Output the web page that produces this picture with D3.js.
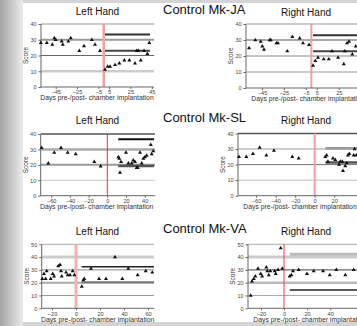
<!DOCTYPE html>
<html>
<head>
<meta charset="utf-8">
<script src="https://cdn.jsdelivr.net/npm/d3@7"></script>
<style>
  body { margin: 0; background: #fff; }
  svg { display: block; font-family: "Liberation Sans", Arial, sans-serif; }
</style>
</head>
<body>
<div id="chart"></div>
<script>
// titles
const monkeys = ['Control Mk-JA', 'Control Mk-SL', 'Control Mk-VA'];
const hands = ['Left Hand', 'Right Hand'];
const xTitle = 'Days pre-/post- chamber implantation';

// tick labels
const xTicksJA = [-45, -25, -5, 5, 25, 45];
const xTicksSL = [-60, -40, -20, 0, 20, 40];
const xTicksVA = [-20, 0, 20, 40, 60];
const yTicks40 = [0, 10, 20, 30, 40];
const yTicks50 = [0, 10, 20, 30, 40, 50];

// Mk-JA
const jaLeftDays = [-59, -53.4, -48.2, -46.3, -45, -39.4, -38.4, -33.2, -30.9, -22.9, -18.5, -11.2, -8.2, -3.5,
  1.2, 3.7, 5.9, 10.6, 14.6, 19.3, 24, 29.3, 30.9, 32.4, 34.7, 37.8, 40.9, 42.7];
const jaLeftScores = [28, 28, 27, 31, 30, 29, 27, 29, 31, 23, 26, 30, 27, 23,
  11, 13, 13, 14, 15, 17, 17, 15, 23, 23, 17, 23, 21, 28];
const jaLeftMeans = [33.3, 23];
const jaRightDays = [-56.8, -51.1, -46.2, -44.7, -43.2, -38, -37, -31.9, -30.4, -21.9, -17.3, -10.6, -7.6, -2.1,
  1.6, 3.6, 6.1, 11.3, 15.9, 18.9, 24.4, 29.6, 30.5, 32.6, 34.4, 37.4, 40.5];
const jaRightScores = [25, 30, 29, 26, 24, 30, 30, 28, 28, 23, 32, 31, 28, 27,
  14, 17, 19, 18, 18, 23, 19, 15, 23, 28, 29, 21, 26];
const jaRightMeans = [33, 23];

// Mk-SL
const slLeftDays = [-70.2, -63.1, -56.7, -49.5, -42.4, -33.8, -13.9, -7.1,
  11.8, 12.8, 13.6, 14.7, 20, 22.5, 26.1, 27.8, 29.6, 31.4, 32.5, 35, 36.8, 38.5, 40.3, 42.1, 46.5, 47.5, 49.2];
const slLeftScores = [31, 21, 28, 31, 28, 27, 22, 19,
  25, 24, 15, 22, 28, 21, 21, 23, 22, 18, 18, 28, 21, 24, 25, 26, 33, 27, 29];
const slLeftMeans = [36.6, 19.3];
const slRightDays = [-77.5, -70, -63.2, -56.3, -49.5, -41.7, -22.9, -16.4,
  10.8, 12.3, 13.6, 18.7, 21.1, 24.9, 26.2, 28.3, 29, 31.3, 32.8, 34.1, 35.4, 39.9, 40.9, 42.6];
const slRightScores = [25, 25, 27, 31, 26, 29, 25, 24,
  25, 26, 22, 24, 23, 20, 22, 22, 16, 19, 21, 26, 27, 26, 30, 26];
const slRightMeans = [30.5, 21.3];

// Mk-VA
const vaLeftDays = [-28.1, -26.7, -25.3, -24.4, -21.1, -19.4, -18.3, -14.8, -13.3, -12.5, -11.9, -8.3, -6.9, -5, -2.8, -1.4,
  4.8, 6.1, 6.9, 12.5, 19.2, 25, 32.5, 38.6, 43.6, 51.4, 58.1, 63.6];
const vaLeftScores = [23, 27, 23, 29, 23, 27, 25, 33, 34, 29, 25, 28, 26, 26, 29, 26,
  17, 22, 23, 31, 23, 23, 40, 23, 31, 26, 29, 28];
const vaLeftMeans = [32.5, 20.3];
const vaRightDays = [-28.8, -27.7, -26.2, -24.8, -22.5, -20.2, -19, -15.3, -14.5, -13.2, -11.9, -8.1, -7.2, -5.2, -2.9, -1.5,
  4.9, 6.3, 7.8, 12.7, 19.9, 25.7, 33.8, 39.6, 45.3, 53.1, 60.3];
const vaRightScores = [10, 21, 23, 25, 31, 27, 25, 32, 29, 26, 29, 29, 27, 30, 47, 31,
  25, 26, 29, 30, 27, 29, 29, 26, 30, 26, 30];
const vaRightMeans = [42.3, 14.3];

const W = 357, H = 326;
const svg = d3.select('#chart').append('svg').attr('width', W).attr('height', H);

// slide background with its shadow
const defs = svg.append('defs');
const grad = defs.append('linearGradient').attr('id', 'shade')
  .attr('x1', '0%').attr('x2', '100%').attr('y1', '0%').attr('y2', '0%');
grad.append('stop').attr('offset', '0%').attr('stop-color', '#a4a4a4');
grad.append('stop').attr('offset', '100%').attr('stop-color', '#ececec');
svg.append('rect').attr('width', W).attr('height', H).attr('fill', '#d4d4d4');
svg.append('rect').attr('width', 23).attr('height', H).attr('fill', 'url(#shade)');
svg.append('rect').attr('x', 23).attr('y', 3).attr('width', W - 23).attr('height', 319).attr('fill', '#fff');

// monkey headings
const headY = [14, 122, 233];
monkeys.forEach((m, i) => {
  svg.append('text').attr('x', 163).attr('y', headY[i])
    .style('font-size', '13px').attr('fill', '#111').text(m);
});

// panel layout (pixel positions belong here, not with the data)
const panels = [
  { days: jaLeftDays, scores: jaLeftScores, means: jaLeftMeans, hand: 0, xt: xTicksJA, yt: yTicks40,
    xr: [41, 154], dom: [-58.8, 47.1], yr: [87, 24], titleY: 15, meanDom: [1.2, 43.4],
    grid: [['#999', 1], ['#9a9a9a', 2], ['#666', 1], ['#ccc', 2.5]], red: ['#f4a0a0', 2.5],
    meanStyle: [['#333', 2], ['#444', 2]] },
  { days: jaRightDays, scores: jaRightScores, means: jaRightMeans, hand: 1, xt: xTicksJA, yt: yTicks40,
    xr: [246, 360], dom: [-59.6, 44.4], yr: [88, 24], titleY: 16, meanDom: [1.5, 50],
    grid: [['#999', 1], ['#aaa', 2], ['#888', 1], ['#bbb', 1.5]], red: ['#f4a0a0', 2],
    meanStyle: [['#333', 2], ['#444', 2]] },
  { days: slLeftDays, scores: slLeftScores, means: slLeftMeans, hand: 0, xt: xTicksSL, yt: yTicks40,
    xr: [40.7, 155], dom: [-71.2, 51], yr: [195.7, 134], titleY: 124, meanDom: [11.7, 50],
    grid: [['#555', 1.5], ['#aaa', 2.5], ['#999', 2], ['#ccc', 1]], red: ['#e03030', 1],
    meanStyle: [['#111', 2], ['#555', 2.5]] },
  { days: slRightDays, scores: slRightScores, means: slRightMeans, hand: 1, xt: xTicksSL, yt: yTicks40,
    xr: [238, 360], dom: [-78.5, 46.4], yr: [195.7, 133.5], titleY: 124, meanDom: [11, 50],
    grid: [['#555', 1.5], ['#bbb', 1.5], ['#777', 1], ['#bbb', 1]], red: ['#f4a0a0', 2],
    meanStyle: [['#999', 2.5], ['#555', 2.5]] },
  { days: vaLeftDays, scores: vaLeftScores, means: vaLeftMeans, hand: 0, xt: xTicksVA, yt: yTicks50,
    xr: [41.7, 154], dom: [-28.6, 65], yr: [308.3, 244.3], titleY: 235, meanDom: [4.7, 65],
    grid: [['#aaa', 1], ['#ccc', 3], ['#888', 1], ['#aaa', 2], ['#999', 1]], red: ['#f6b0b0', 3],
    meanStyle: [['#222', 1.5], ['#777', 2]] },
  { days: vaRightDays, scores: vaRightScores, means: vaRightMeans, hand: 1, xt: xTicksVA, yt: yTicks50,
    xr: [248, 360], dom: [-31.2, 65.8], yr: [308.3, 244.3], titleY: 235, meanDom: [5, 70],
    grid: [['#aaa', 1], ['#ccc', 3], ['#444', 1], ['#bbb', 2.5], ['#aaa', 1]], red: ['#e84040', 1],
    meanStyle: [['#bbb', 3], ['#222', 1.5]] }
];

const tri = d3.symbol().type(d3.symbolTriangle).size(7);
const fontFam = '"Liberation Sans", Arial, sans-serif';

panels.forEach(p => {
  const x = d3.scaleLinear().domain(p.dom).range(p.xr);
  const yMax = d3.max(p.yt);
  const y = d3.scaleLinear().domain([0, yMax]).range(p.yr);
  const g = svg.append('g');
  const x0 = p.xr[0], x1 = p.xr[1];

  g.append('text')
    .attr('x', p.hand ? 306 : 97.5).attr('y', p.titleY)
    .attr('text-anchor', 'middle').style('font-size', '10px').attr('fill', '#111')
    .text(hands[p.hand]);

  // horizontal gridlines, top first
  const gridTicks = p.yt.filter(t => t > 0).reverse();
  g.selectAll('.grid').data(gridTicks).enter().append('line')
    .attr('x1', x0).attr('x2', x1)
    .attr('y1', d => y(d)).attr('y2', d => y(d))
    .attr('stroke', (d, i) => p.grid[i][0])
    .attr('stroke-width', (d, i) => p.grid[i][1]);

  // implantation day
  g.append('line')
    .attr('x1', x(0)).attr('x2', x(0)).attr('y1', y(yMax)).attr('y2', y(0))
    .attr('stroke', p.red[0]).attr('stroke-width', p.red[1]);

  // post-implantation reference lines
  g.selectAll('.mean').data(p.means).enter().append('line')
    .attr('x1', x(p.meanDom[0])).attr('x2', x(p.meanDom[1]))
    .attr('y1', d => y(d)).attr('y2', d => y(d))
    .attr('stroke', (d, i) => p.meanStyle[i][0])
    .attr('stroke-width', (d, i) => p.meanStyle[i][1]);

  // y axis
  const yAxis = d3.axisLeft(y).tickValues(p.yt).tickSize(2.5).tickPadding(2);
  const ya = g.append('g').attr('transform', 'translate(' + x0 + ',0)').call(yAxis);
  ya.select('.domain').attr('stroke', '#666').attr('d', 'M0,' + y(yMax) + 'V' + y(0));
  ya.selectAll('.tick line').attr('stroke', '#666');
  ya.selectAll('.tick text').attr('fill', '#444').style('font-size', '5.5px').style('font-family', fontFam);

  // x axis; labels past the slide edge are not shown
  const xAxis = d3.axisBottom(x).tickValues(p.xt.filter(t => x(t) < W - 4))
    .tickSize(2).tickPadding(1.5).tickFormat(d3.format('d'));
  const xa = g.append('g').attr('transform', 'translate(0,' + y(0) + ')').call(xAxis);
  xa.select('.domain').attr('stroke', '#666').attr('d', 'M' + x0 + ',0H' + x1);
  xa.selectAll('.tick line').attr('stroke', '#666');
  xa.selectAll('.tick text').attr('fill', '#444').style('font-size', '5.6px').style('font-family', fontFam);

  g.append('text')
    .attr('x', x0 + (p.hand ? 62 : 56)).attr('y', y(0) + 13.3)
    .attr('text-anchor', 'middle').style('font-size', '6.8px').attr('fill', '#333')
    .text(xTitle);

  g.append('text')
    .attr('transform', 'translate(' + (x0 - 13) + ',' + (y(0) + y(yMax)) / 2 + ') rotate(-90)')
    .attr('text-anchor', 'middle').style('font-size', '6.5px').attr('fill', '#333')
    .text('Score');

  // score triangles
  g.selectAll('.pt').data(p.days).enter().append('path')
    .attr('d', tri)
    .attr('transform', (d, i) => 'translate(' + x(d) + ',' + y(p.scores[i]) + ')')
    .attr('fill', '#111');
});
</script>
</body>
</html>
